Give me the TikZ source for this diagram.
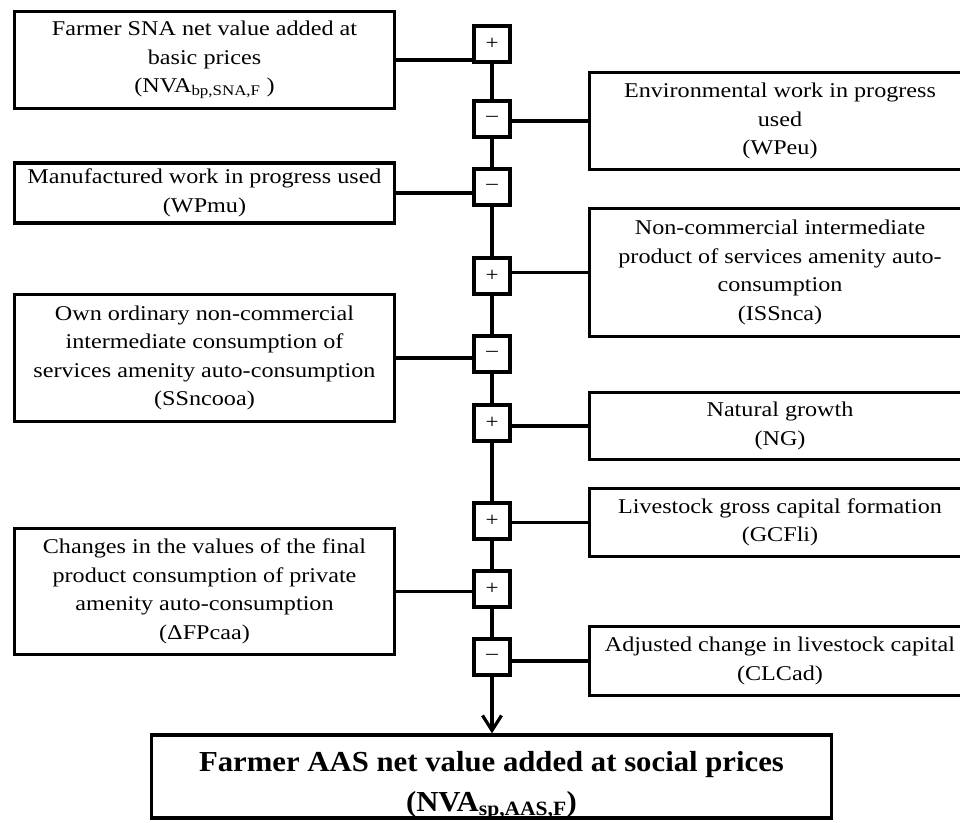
\documentclass[tikz,border=0pt]{standalone}
\usepackage{fontspec}
\setmainfont{Liberation Serif}[FakeStretch=1.15]
\newfontfamily\resultfont{Liberation Serif}[FakeStretch=1.06]
\usetikzlibrary{arrows.meta}

\begin{document}
\begin{tikzpicture}[x=1pt,y=-1pt,
  item/.style={draw, line width=3.2pt, align=center, inner sep=2pt,
    minimum width=380pt, font=\fontsize{21pt}{28.5pt}\selectfont},
  sign/.style={draw, line width=3.2pt, minimum size=36pt, inner sep=0pt,
    font=\fontsize{20pt}{22pt}\selectfont},
  link/.style={line width=3.2pt},
  result/.style={draw, line width=3.2pt, inner sep=2pt,
    minimum width=680pt, minimum height=83pt,
    font=\fontsize{29pt}{38pt}\resultfont\bfseries},
]
\clip (0,0) rectangle (960,822);

% signs along the summation spine
\node[sign] (S1) at (492,44)  {+};
\node[sign] (S2) at (492,119) {–};
\node[sign] (S3) at (492,187) {–};
\node[sign] (S4) at (492,276) {+};
\node[sign] (S5) at (492,354) {–};
\node[sign] (S6) at (492,423) {+};
\node[sign] (S7) at (492,521) {+};
\node[sign] (S8) at (492,589) {+};
\node[sign] (S9) at (492,657) {–};

% left column
\node[item, minimum height=97pt] (L1) at (204.5,60)
  {Farmer SNA net value added at\\basic prices\\(NVA\textsubscript{bp,SNA,F} )};
\node[item, minimum height=60pt] (L2) at (204.5,193)
  {Manufactured work in progress used\\(WPmu)};
\node[item, minimum height=127pt] (L3) at (204.5,358)
  {Own ordinary non-commercial\\intermediate consumption of\\services amenity auto-consumption\\(SSncooa)};
\node[item, minimum height=126pt] (L4) at (204.5,591.5)
  {Changes in the values of the final\\product consumption of private\\amenity auto-consumption\\(ΔFPcaa)};

% right column
\node[item, minimum width=381pt, minimum height=97pt] (R1) at (780,121)
  {Environmental work in progress\\used\\(WPeu)};
\node[item, minimum width=381pt, minimum height=128pt] (R2) at (780,272.5)
  {Non-commercial intermediate\\product of services amenity auto-\\consumption\\(ISSnca)};
\node[item, minimum width=381pt, minimum height=67pt] (R3) at (780,426)
  {Natural growth\\(NG)};
\node[item, minimum width=381pt, minimum height=68pt] (R4) at (780,522.5)
  {Livestock gross capital formation\\(GCFli)};
\node[item, minimum width=381pt, minimum height=69pt] (R5) at (780,661)
  {Adjusted change in livestock capital\\(CLCad)};

% result, its two lines set a little below the box centre
\node[result] (F) at (491.5,776.5)
  {\raisebox{-7pt}[\height][\depth]{\begin{tabular}{@{}c@{}}
    Farmer AAS net value added at social prices\\[2pt]
    (NVA\textsubscript{sp,AAS,F})
  \end{tabular}}};

% spine
\draw[link] (S1) -- (S2);
\draw[link] (S2) -- (S3);
\draw[link] (S3) -- (S4);
\draw[link] (S4) -- (S5);
\draw[link] (S5) -- (S6);
\draw[link] (S6) -- (S7);
\draw[link] (S7) -- (S8);
\draw[link] (S8) -- (S9);
\draw[link, -{Straight Barb[length=15pt, width=19pt, line width=3.2pt]}]
  (S9.south) -- (S9.south |- F.north);

% connectors from the items to the signs
\draw[link] (L1.east) -- (L1.east -| S1.west);
\draw[link] (R1.west) -- (R1.west -| S2.east);
\draw[link] (L2.east) -- (L2.east -| S3.west);
\draw[link] (R2.west) -- (R2.west -| S4.east);
\draw[link] (L3.east) -- (L3.east -| S5.west);
\draw[link] (R3.west) -- (R3.west -| S6.east);
\draw[link] (R4.west) -- (R4.west -| S7.east);
\draw[link] (L4.east) -- (L4.east -| S8.west);
\draw[link] (R5.west) -- (R5.west -| S9.east);
\end{tikzpicture}
\end{document}
